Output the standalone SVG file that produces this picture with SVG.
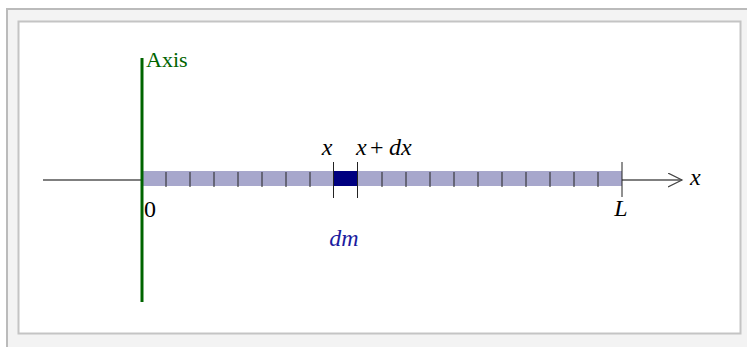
<svg xmlns="http://www.w3.org/2000/svg" width="747" height="347" viewBox="0 0 747 347">
<style>
.lbl{font-family:"Liberation Serif",serif;font-size:24px;fill:#000}
.it{font-style:italic}
.tick{stroke:#222;stroke-width:1}
</style>
<defs>
<marker id="arr" markerWidth="16" markerHeight="16" refX="14" refY="7" orient="auto" markerUnits="userSpaceOnUse">
<path d="M0,0 L14,7 L0,14" fill="none" stroke="#444" stroke-width="1.2"/>
</marker>
</defs>
<rect x="7" y="9" width="745" height="345" fill="#f3f3f3" stroke="#bbb" stroke-width="2"/>
<rect x="18.5" y="21.5" width="722" height="312" fill="#fff" stroke="#c4c4c4" stroke-width="2"/>
<g id="connectors">
<line x1="43" y1="180" x2="682" y2="180" stroke="#555" stroke-width="1.3" marker-end="url(#arr)"/>
</g>
<g id="rod">
<rect x="142" y="171" width="480" height="15" fill="#a7a7cc"/>
<rect x="333" y="171" width="24" height="15" fill="#000080"/>
<g class="tick">
<line x1="166" y1="172" x2="166" y2="187"/><line x1="190" y1="172" x2="190" y2="187"/>
<line x1="214" y1="172" x2="214" y2="187"/><line x1="238" y1="172" x2="238" y2="187"/>
<line x1="262" y1="172" x2="262" y2="187"/><line x1="286" y1="172" x2="286" y2="187"/>
<line x1="310" y1="172" x2="310" y2="187"/>
<line x1="333.5" y1="162" x2="333.5" y2="198"/><line x1="357.5" y1="162" x2="357.5" y2="198"/>
<line x1="382" y1="172" x2="382" y2="187"/><line x1="406" y1="172" x2="406" y2="187"/>
<line x1="430" y1="172" x2="430" y2="187"/><line x1="454" y1="172" x2="454" y2="187"/>
<line x1="478" y1="172" x2="478" y2="187"/><line x1="502" y1="172" x2="502" y2="187"/>
<line x1="526" y1="172" x2="526" y2="187"/><line x1="550" y1="172" x2="550" y2="187"/>
<line x1="574" y1="172" x2="574" y2="187"/><line x1="598" y1="172" x2="598" y2="187"/>
<line x1="622" y1="162" x2="622" y2="197"/>
</g>
</g>
<g id="axis">
<line x1="142" y1="58" x2="142" y2="302" stroke="#006400" stroke-width="3"/>
<text x="146" y="67" class="lbl" style="fill:#006400;font-size:22px">Axis</text>
</g>
<g id="labels">
<text x="144" y="217" class="lbl">0</text>
<text x="621" y="216" class="lbl it" text-anchor="middle">L</text>
<text x="690" y="185" class="lbl it">x</text>
<text x="327" y="155" class="lbl it" text-anchor="middle">x</text>
<text y="155" class="lbl"><tspan x="356" class="it">x</tspan><tspan x="370">+</tspan><tspan x="389" class="it">dx</tspan></text>
<text x="344" y="246" class="lbl it" text-anchor="middle" style="fill:#1c1ca0">dm</text>
</g>
</svg>
